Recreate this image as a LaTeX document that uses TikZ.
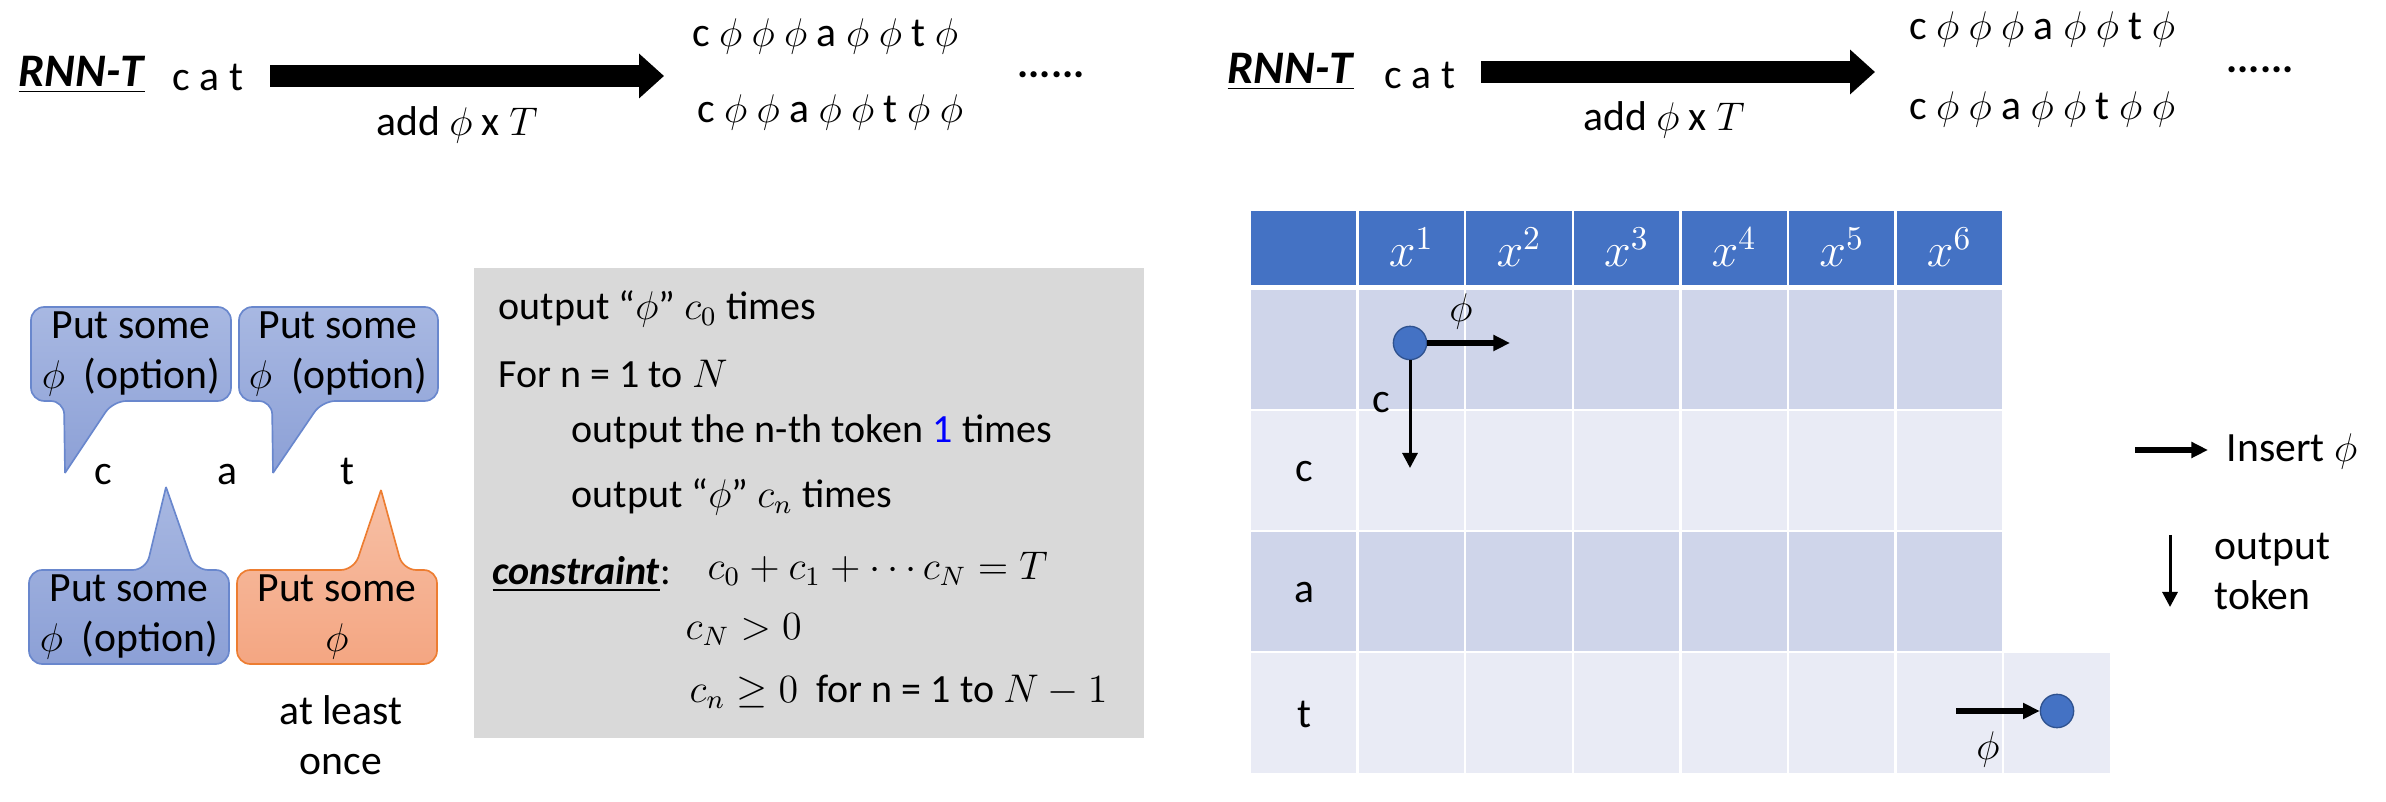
\documentclass[tikz,border=0pt]{standalone}
\usepackage{fontspec}
\setmainfont{Carlito}
\usetikzlibrary{arrows.meta,positioning}
\definecolor{hdrblue}{HTML}{4472C4}
\definecolor{rowdark}{HTML}{CFD5EA}
\definecolor{rowlight}{HTML}{E9EBF5}
\definecolor{boxgray}{HTML}{D9D9D9}
\definecolor{bubbletop}{RGB}{168,184,226}
\definecolor{bubblebot}{RGB}{140,160,214}
\definecolor{bubbleline}{RGB}{105,135,205}
\definecolor{peachtop}{RGB}{247,192,166}
\definecolor{peachbot}{RGB}{244,166,130}
\definecolor{peachline}{RGB}{237,125,49}
\definecolor{dotline}{RGB}{47,82,143}

\begin{document}
\begin{tikzpicture}[x=0.3pt, y=-0.3pt,
  txt/.style={font=\fontsize{12}{14.4}\selectfont, inner sep=0pt},
  toptxt/.style={font=\fontsize{12.5}{15}\selectfont, inner sep=0pt},
  title/.style={font=\fontsize{14}{16}\selectfont, inner sep=0pt},
  blockarrow/.style={line width=6.6pt, -{Triangle[length=7.5pt, width=13pt]}},
  fatarrow/.style={line width=1.8pt, -{Triangle[length=5pt, width=4.6pt]}},
  slimarrow/.style={line width=0.9pt, -{Triangle[length=4.5pt, width=4.5pt]}},
  bluebubble/.style={draw=bubbleline, line width=0.5pt, top color=bubbletop,
    bottom color=bubblebot, rounded corners=4pt},
  peachbubble/.style={draw=peachline, line width=0.5pt, top color=peachtop,
    bottom color=peachbot, rounded corners=4pt},
  cell/.style={draw=white, line width=0.7pt},
  dot/.style={circle, draw=dotline, line width=0.4pt, fill=hdrblue,
    minimum size=10pt, inner sep=0pt}]
  \useasboundingbox (0,0) rectangle (2386,802);

  % top row, left
  \node[title] (rnnL) at (82,75) {\underline{\textbf{\textit{RNN-T}}}};
  \node[toptxt] (catL) at (208,77) {c a t};
  \coordinate (arrLa) at (270,76);
  \coordinate (arrLb) at (664,76);
  \draw[blockarrow] (arrLa) -- (arrLb);
  \node[toptxt] (addL) at (457,125) {add $\phi$ x $T$};
  \node[toptxt] (seqLa) at (825,37) {c $\phi$ $\phi$ $\phi$ a $\phi$ $\phi$ t $\phi$};
  \node[toptxt] (seqLb) at (830,113) {c $\phi$ $\phi$ a $\phi$ $\phi$ t $\phi$ $\phi$};
  \node[toptxt] (dotsL) at (1051,75) {\textbf{......}};

  % top row, right
  \node[title] (rnnR) at (1291,72) {\underline{\textbf{\textit{RNN-T}}}};
  \node[toptxt] (catR) at (1420,75) {c a t};
  \coordinate (arrRa) at (1481,72);
  \coordinate (arrRb) at (1875,72);
  \draw[blockarrow] (arrRa) -- (arrRb);
  \node[toptxt] (addR) at (1664,120) {add $\phi$ x $T$};
  \node[toptxt] (seqRa) at (2042,30) {c $\phi$ $\phi$ $\phi$ a $\phi$ $\phi$ t $\phi$};
  \node[toptxt] (seqRb) at (2042,110) {c $\phi$ $\phi$ a $\phi$ $\phi$ t $\phi$ $\phi$};
  \node[toptxt] (dotsR) at (2260,70) {\textbf{......}};

  % callouts
  \path[bluebubble] (65,473) -- (113,401) -- (231,401) -- (231,307) -- (31,307)
    -- (31,401) -- (64,401) -- (65,473);
  \path[bluebubble] (273,473) -- (322,401) -- (438,401) -- (438,307) -- (239,307)
    -- (239,401) -- (272,401) -- (273,473);
  \path[bluebubble] (166,487) -- (195,570) -- (229,570) -- (229,664) -- (29,664)
    -- (29,570) -- (146,570) -- (166,487);
  \path[peachbubble] (381,490) -- (403,570) -- (437,570) -- (437,664) -- (237,664)
    -- (237,570) -- (354,570) -- (381,490);
  \node[toptxt, align=center] (putA) at (131,354) {Put some\\$\phi$\ \ (option)};
  \node[toptxt, align=center] (putB) at (338,354) {Put some\\$\phi$\ \ (option)};
  \node[toptxt, align=center] (putC) at (129,617) {Put some\\$\phi$\ \ (option)};
  \node[toptxt, align=center] (putD) at (337,617) {Put some\\$\phi$};
  \node[toptxt, anchor=base] (tokc) at (103,485) {c};
  \node[toptxt, anchor=base] (toka) at (227,485) {a};
  \node[toptxt, anchor=base] (tokt) at (347,485) {t};
  \node[toptxt, align=center] (once) at (341,735) {at least\\once};

  % algorithm box
  \fill[boxgray] (474,268) rectangle (1144,738);
  \node[txt, anchor=base west] (l1) at (498,320) {output “$\phi$” $c_0$ times};
  \node[txt, anchor=base west] (l2) at (498,388) {For n = 1 to $N$};
  \node[txt, anchor=base west] (l3) at (571,443)
    {output the n-th token \textcolor{blue}{1} times};
  \node[txt, anchor=base west] (l4) at (571,508) {output “$\phi$” $c_n$ times};
  \node[txt, anchor=base west] (l5) at (492,585)
    {\underline{\textbf{\textit{constraint}}}:};
  \node[txt, anchor=base west] (m1) at (707,580) {$c_0+c_1+\cdots c_N=T$};
  \node[txt, anchor=base west] (m2) at (685,640) {$c_N>0$};
  \node[txt, anchor=base west] (m3) at (689,703) {$c_n\geq 0$\ \ for n = 1 to $N-1$};

  % lattice
  \foreach \i in {0,...,6}
    \path[cell, fill=hdrblue] ({1250+107.6*\i},210) rectangle ++(107.6,76);
  \foreach \y/\rowcol in {289/rowdark, 410/rowlight, 531/rowdark}
    \foreach \i in {0,...,6}
      \path[cell, fill=\rowcol] ({1250+107.6*\i},\y) rectangle ++(107.6,121);
  \foreach \i in {0,...,7}
    \path[cell, fill=rowlight] ({1250+107.6*\i},652) rectangle ++(107.6,122);
  \foreach \i in {1,...,6}
    \node[title, text=white] (x\i) at ({1250+107.6*(\i+0.5)},247) {$x^{\i}$};
  \node[toptxt] (rowc) at (1304,472) {c};
  \node[toptxt] (rowa) at (1304,593) {a};
  \node[toptxt] (rowt) at (1304,714) {t};

  \node[dot] (start) at (1410,343) {};
  \coordinate (startE) at (1510,343);
  \coordinate (startS) at (1410,468);
  \draw[fatarrow] (start.east) -- (startE);
  \draw[slimarrow] (start.south) -- (startS);
  \node[toptxt] (phiA) at (1461,312) {$\phi$};
  \node[toptxt] (cA) at (1381,403) {c};

  \node[dot] (finish) at (2057,711) {};
  \coordinate (finishW) at (1956,711);
  \draw[fatarrow] (finishW) -- (finish.west);
  \node[toptxt] (phiB) at (1988,750) {$\phi$};

  % legend
  \coordinate (insA) at (2135,450);
  \coordinate (insB) at (2208,450);
  \draw[fatarrow] (insA) -- (insB);
  \node[toptxt, anchor=west] (ins) at (2226,452) {Insert $\phi$};
  \coordinate (outA) at (2170,535);
  \coordinate (outB) at (2170,607);
  \draw[slimarrow] (outA) -- (outB);
  \node[toptxt, anchor=west, align=left] (outtok) at (2214,571) {output\\token};
\end{tikzpicture}
\end{document}
